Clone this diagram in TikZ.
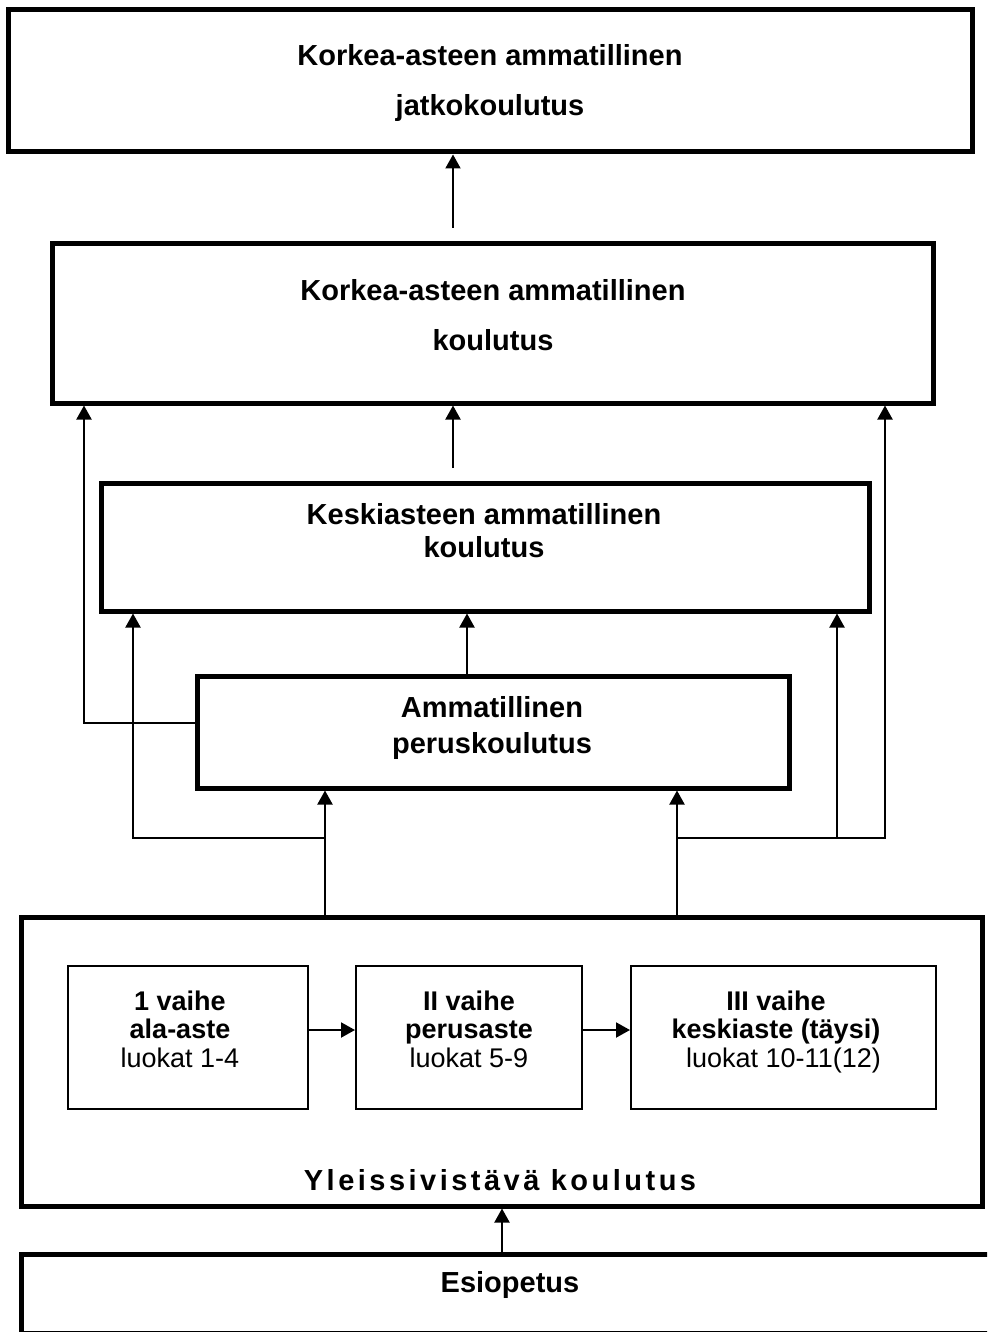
\documentclass[tikz,border=0pt]{standalone}
\usepackage{fontspec}
\setmainfont{Liberation Sans}
\newfontfamily\spacedfont[LetterSpace=12]{Liberation Sans}
\usetikzlibrary{arrows.meta}
\begin{document}
\begin{tikzpicture}[x=1pt,y=-1pt,
  bigbox/.style={draw, line width=5pt, inner sep=0pt},
  smallbox/.style={draw, line width=2pt, inner sep=0pt},
  arr/.style={line width=2pt, -{Triangle[length=14pt,width=15pt]}},
  bigtxt/.style={font=\fontsize{29pt}{50pt}\selectfont\bfseries, align=center, anchor=base, inner sep=0pt},
  midtxt/.style={font=\fontsize{29pt}{33pt}\selectfont\bfseries, align=center, anchor=base, inner sep=0pt},
  midtxtb/.style={font=\fontsize{29pt}{36pt}\selectfont\bfseries, align=center, anchor=base, inner sep=0pt},
  smalltxt/.style={font=\fontsize{27pt}{28.5pt}\selectfont, align=center, anchor=base, inner sep=0pt}
]
\useasboundingbox (0,0) rectangle (987,1332);
\clip (0,0) rectangle (987,1332);

% boxes
\node[bigbox, minimum width=964pt, minimum height=142pt] (b1) at (490,81) {};
\node[bigtxt] (t1) at (490,116) {Korkea-asteen ammatillinen\\jatkokoulutus};

\node[bigbox, minimum width=881pt, minimum height=159pt] (b2) at (492.5,323.5) {};
\node[bigtxt] (t2) at (493,350) {Korkea-asteen ammatillinen\\koulutus};

\node[bigbox, minimum width=768pt, minimum height=128pt] (b3) at (485,547) {};
\node[midtxt] (t3) at (484,557) {Keskiasteen ammatillinen\\koulutus};

\node[bigbox, minimum width=592pt, minimum height=112pt] (b4) at (493,732) {};
\node[midtxtb] (t4) at (492,753) {Ammatillinen\\peruskoulutus};

\node[bigbox, minimum width=961pt, minimum height=289pt] (b5) at (501.5,1061.5) {};
\node[smallbox, minimum width=240pt, minimum height=143pt] (sa) at (188,1037.5) {};
\node[smallbox, minimum width=226pt, minimum height=143pt] (sb) at (469,1037.5) {};
\node[smallbox, minimum width=305pt, minimum height=143pt] (sc) at (783.5,1037.5) {};
\node[smalltxt] (ta) at (180,1067) {{\bfseries 1 vaihe}\\{\bfseries ala-aste}\\luokat 1-4};
\node[smalltxt] (tb) at (469,1067) {{\bfseries II vaihe}\\{\bfseries perusaste}\\luokat 5-9};
\node[smalltxt] (tc) at (776,1067) {{\bfseries III vaihe}\\{\bfseries keskiaste (täysi)}\\\ \ luokat 10-11(12)};
\node[bigtxt] (t5) at (500,1190) {\spacedfont Yleissivistävä koulutus};

\node[bigbox, minimum width=979pt, minimum height=79pt] (b6) at (510.5,1293.5) {};
\node[bigtxt] (t6) at (510,1292) {Esiopetus};

% helper coordinates
\coordinate (s1) at (453,228);
\coordinate (s2) at (453,468);
\coordinate (xL) at (84,0);
\coordinate (xL2) at (133,0);
\coordinate (xM1) at (325,0);
\coordinate (xC2) at (467,0);
\coordinate (xM2) at (677,0);
\coordinate (xR2) at (837,0);
\coordinate (xR) at (885,0);
\coordinate (xE) at (502,0);
\coordinate (yH) at (0,838);
\coordinate (yJ) at (0,723);
\coordinate (yA) at (0,1030);

% connectors
\draw[arr] (s1) -- (s1 |- b1.south);
\draw[arr] (s2) -- (s2 |- b2.south);
\draw[arr] (xC2 |- b4.north) -- (xC2 |- b3.south);
\draw[arr] (b4.west |- yJ) -- (xL |- yJ) -- (xL |- b2.south);
\draw[arr] (xM1 |- yH) -- (xL2 |- yH) -- (xL2 |- b3.south);
\draw[arr] (xM1 |- b5.north) -- (xM1 |- b4.south);
\draw[arr] (xM2 |- b5.north) -- (xM2 |- b4.south);
\draw[arr] (xM2 |- yH) -- (xR |- yH) -- (xR |- b2.south);
\draw[arr] (xR2 |- yH) -- (xR2 |- b3.south);
\draw[arr] (sa.east |- yA) -- (sb.west |- yA);
\draw[arr] (sb.east |- yA) -- (sc.west |- yA);
\draw[arr] (xE |- b6.north) -- (xE |- b5.south);
\end{tikzpicture}
\end{document}
